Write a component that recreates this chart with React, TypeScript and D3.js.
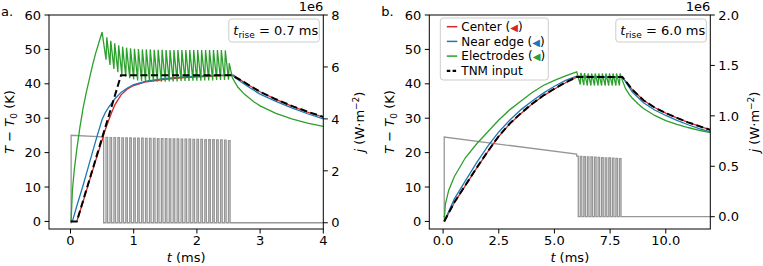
import React from 'react';
import * as d3 from 'd3';

type Pt = [number, number];

// ---------- panel a (t_rise = 0.7 ms) ----------
const pulseTimesA = [0.5, 0.5625, 0.625, 0.6875, 0.75, 0.8125, 0.875, 0.9375, 1.0, 1.0625, 1.125, 1.1875, 1.25, 1.3125, 1.375, 1.4375, 1.5, 1.5625, 1.625, 1.6875, 1.75, 1.8125, 1.875, 1.9375, 2.0, 2.0625, 2.125, 2.1875, 2.25, 2.3125, 2.375, 2.4375, 2.5];
const currentPeaksA = [3.29, 3.29, 3.28, 3.28, 3.28, 3.27, 3.27, 3.27, 3.26, 3.26, 3.26, 3.25, 3.25, 3.25, 3.24, 3.24, 3.24, 3.23, 3.23, 3.23, 3.22, 3.22, 3.22, 3.21, 3.21, 3.21, 3.2, 3.2, 3.2, 3.19, 3.19, 3.18, 3.16];
const currentDcA: Pt[] = [[0, 0], [0.01, 0], [0.01, 3.37], [0.5, 3.31]];
const tnmA: Pt[] = [[0, 0], [0.1, 0], [0.8, 42.5], [2.55, 42.5], [2.7, 41.0], [2.85, 39.3], [3.0, 37.7], [3.25, 35.5], [3.5, 33.6], [3.75, 31.9], [4.0, 30.4]];
const centerA: Pt[] = [[0.1, 0], [0.2, 5.8], [0.3, 11.8], [0.4, 17.8], [0.5, 23.6], [0.55, 26.6], [0.6, 29.2], [0.65, 31.6], [0.7, 33.8], [0.8, 36.8], [0.9, 38.5], [1.0, 39.5], [1.2, 40.6], [1.5, 41.3], [1.8, 41.8], [2.1, 42.1], [2.4, 42.4], [2.58, 42.5], [2.7, 41.0], [2.85, 39.3], [3.0, 37.7], [3.25, 35.5], [3.5, 33.5], [3.75, 31.8], [4.0, 30.3]];
const nearEdgeA: Pt[] = [[0.03, 0], [0.1, 4.5], [0.2, 10.5], [0.3, 17], [0.4, 23.5], [0.5, 29.6], [0.55, 31.6], [0.6, 33.1], [0.7, 35.6], [0.8, 37.5], [0.9, 38.8], [1.0, 39.8], [1.2, 40.8], [1.5, 41.6], [1.8, 42.0], [2.1, 42.3], [2.4, 42.5], [2.56, 42.5], [2.7, 40.5], [2.85, 38.7], [3.0, 37.0], [3.25, 34.9], [3.5, 33.0], [3.75, 31.3], [4.0, 29.8]];
const elecRiseA: Pt[] = [[0.01, 0], [0.03, 9], [0.06, 15], [0.1, 21], [0.15, 27.5], [0.2, 33], [0.25, 37.5], [0.3, 41.5], [0.35, 45.5], [0.4, 49], [0.45, 52], [0.5, 55]];
const elecPeaksA = [53.5, 52.5, 51.8, 51.2, 50.8, 50.5, 50.3, 50.2, 50.1, 50.0, 50.0, 50.0, 49.9, 49.9, 49.9, 49.8, 49.8, 49.8, 49.8, 49.8, 49.8, 49.8, 49.8, 49.8, 49.8, 49.8, 49.8, 49.8, 49.8, 49.8, 49.7, 46.0];
const elecTroughsA = [47.0, 45.5, 44.3, 43.4, 42.7, 42.1, 41.6, 41.3, 41.0, 40.8, 40.7, 40.6, 40.6, 40.6, 40.6, 40.6, 40.7, 40.7, 40.7, 40.8, 40.8, 40.8, 40.9, 40.9, 40.9, 41.0, 41.0, 41.0, 41.1, 41.1, 41.1, 41.2];
const elecDecayA: Pt[] = [[2.56, 41.8], [2.6, 40.5], [2.65, 39.0], [2.75, 37.0], [2.9, 34.8], [3.0, 33.6], [3.25, 31.4], [3.5, 29.8], [3.75, 28.6], [4.0, 27.6]];

// ---------- panel b (t_rise = 6.0 ms) ----------
const pulseTimesB = [6.0, 6.16, 6.32, 6.48, 6.64, 6.8, 6.96, 7.12, 7.28, 7.44, 7.6, 7.76, 7.92];
const currentPeaksB = [0.6, 0.598, 0.596, 0.594, 0.592, 0.59, 0.588, 0.586, 0.584, 0.582, 0.58, 0.578, 0.576];
const currentDcB: Pt[] = [[0, 0], [0.05, 0], [0.05, 0.79], [6.0, 0.62]];
const tnmB: Pt[] = [[0.05, 0], [0.5, 5.5], [1, 10.5], [1.5, 15.5], [2, 20.3], [2.5, 24.8], [3, 28.5], [3.5, 31.5], [4, 34.2], [4.5, 36.6], [5, 38.6], [5.5, 40.4], [6, 42], [8.05, 42], [8.5, 38.3], [9, 35.2], [9.5, 33.1], [10, 31.5], [10.5, 30.1], [11, 28.8], [11.5, 27.7], [12, 26.6]];
const centerB: Pt[] = [[0.05, 0], [0.5, 5.4], [1, 10.4], [1.5, 15.4], [2, 20.2], [2.5, 24.7], [3, 28.4], [3.5, 31.4], [4, 34.1], [4.5, 36.5], [5, 38.5], [5.5, 40.3], [6, 41.9], [8.05, 41.9], [8.5, 38.3], [9, 35.2], [9.5, 33.1], [10, 31.5], [10.5, 30.1], [11, 28.8], [11.5, 27.7], [12, 26.6]];
const nearEdgeB: Pt[] = [[0.05, 0], [0.5, 6.5], [1, 11.8], [1.5, 17], [2, 21.8], [2.5, 26], [3, 29.5], [3.5, 32.5], [4, 35], [4.5, 37.3], [5, 39.3], [5.5, 41], [6, 42.2], [8.05, 42], [8.5, 37.6], [9, 34.5], [9.5, 32.4], [10, 30.8], [10.5, 29.4], [11, 28.1], [11.5, 27], [12, 26]];
const elecRiseB: Pt[] = [[0.05, 0], [0.1, 5], [0.25, 9], [0.5, 13], [1, 18.5], [1.5, 22.5], [2, 26], [2.5, 29.5], [3, 32.5], [3.5, 35], [4, 37.5], [4.5, 39.5], [5, 41], [5.5, 42.3], [6, 43.5]];
const elecPeaksB = [43.2, 43.1, 43.0, 43.0, 43.0, 43.0, 43.0, 43.0, 43.0, 43.0, 43.0, 43.0];
const elecTroughsB = [39.8, 39.6, 39.5, 39.5, 39.5, 39.5, 39.5, 39.5, 39.5, 39.5, 39.5, 39.5];
const elecDecayB: Pt[] = [[8.05, 41], [8.2, 38.5], [8.35, 37], [8.5, 35.8], [8.75, 34.2], [9, 32.8], [9.5, 30.8], [10, 29.3], [10.5, 28.2], [11, 27.3], [11.5, 26.5], [12, 25.8]];

// ---------- axes ----------
const tempTicks = [0, 10, 20, 30, 40, 50, 60];
const timeTicksA = [0, 1, 2, 3, 4];
const timeTicksB = [0, 2.5, 5, 7.5, 10];
const currentTicksA = [0, 2, 4, 6, 8];
const currentTicksB = [0, 0.5, 1, 1.5, 2];

const legendItems = [
  { label: 'Center', color: '#d62728' },
  { label: 'Near edge', color: '#1f77b4' },
  { label: 'Electrodes', color: '#2ca02c' },
];

const FONT = 'DejaVu Sans';
const RED = '#d62728';
const BLUE = '#1f77b4';
const GREEN = '#2ca02c';
const GRAY = '#969696';

const currentPath = (dc: Pt[], times: number[], peaks: number[], w: number, tEnd: number): Pt[] => {
  const pts: Pt[] = [...dc];
  times.forEach((t, i) => {
    if (i > 0) pts.push([t, 0]);
    pts.push([t, peaks[i]], [t + w, peaks[i]], [t + w, 0]);
  });
  pts.push([tEnd, 0]);
  return pts;
};

const electrodePath = (rise: Pt[], times: number[], peaks: number[], troughs: number[], w: number, decay: Pt[]): Pt[] => {
  const pts: Pt[] = [...rise];
  for (let i = 1; i < times.length; i++) {
    pts.push([times[i], troughs[i - 1]], [times[i] + w, peaks[i - 1]]);
  }
  return pts.concat(decay);
};

type PanelProps = {
  id: string;
  letter: string;
  left: number;
  right: number;
  xDomain: [number, number];
  xTicks: number[];
  xFmt: (v: number) => string;
  jDomain: [number, number];
  jTicks: number[];
  jFmt: (v: number) => string;
  current: Pt[];
  center: Pt[];
  near: Pt[];
  elec: Pt[];
  tnm: Pt[];
  rise: string;
  legend?: boolean;
  jLabelX: number;
};

const TOP = 15;
const BOTTOM = 229;

const Panel = (p: PanelProps) => {
  const x = d3.scaleLinear().domain(p.xDomain).range([p.left, p.right]);
  const y = d3.scaleLinear().domain([-2.2, 60]).range([BOTTOM, TOP]);
  const yj = d3.scaleLinear().domain(p.jDomain).range([BOTTOM, TOP]);
  const line = d3.line<Pt>().x(d => x(d[0])).y(d => y(d[1]));
  const lineJ = d3.line<Pt>().x(d => x(d[0])).y(d => yj(d[1]));
  const cx = (p.left + p.right) / 2;
  const cy = (TOP + BOTTOM) / 2;

  return (
    <g fontFamily={FONT} fontSize={13} fill="#000">
      <defs>
        <clipPath id={`clip-${p.id}`}>
          <rect x={p.left} y={TOP} width={p.right - p.left} height={BOTTOM - TOP} />
        </clipPath>
      </defs>
      <g clipPath={`url(#clip-${p.id})`} fill="none">
        <path d={lineJ(p.current) || ''} stroke={GRAY} strokeWidth={1.3} />
        <path d={line(p.center) || ''} stroke={RED} strokeWidth={1.3} />
        <path d={line(p.near) || ''} stroke={BLUE} strokeWidth={1.3} />
        <path d={line(p.elec) || ''} stroke={GREEN} strokeWidth={1.3} />
        <path d={line(p.tnm) || ''} stroke="#000" strokeWidth={2} strokeDasharray="7,3.5" />
      </g>
      <rect x={p.left} y={TOP} width={p.right - p.left} height={BOTTOM - TOP} fill="none" stroke="#000" strokeWidth={1} />

      {tempTicks.map(t => (
        <g key={`yt${t}`}>
          <line x1={p.left - 4.5} x2={p.left} y1={y(t)} y2={y(t)} stroke="#000" />
          <text x={p.left - 8} y={y(t)} dy="0.36em" textAnchor="end">{t}</text>
        </g>
      ))}
      {p.jTicks.map(t => (
        <g key={`jt${t}`}>
          <line x1={p.right} x2={p.right + 4.5} y1={yj(t)} y2={yj(t)} stroke="#000" />
          <text x={p.right + 8} y={yj(t)} dy="0.36em">{p.jFmt(t)}</text>
        </g>
      ))}
      {p.xTicks.map(t => (
        <g key={`xt${t}`}>
          <line x1={x(t)} x2={x(t)} y1={BOTTOM} y2={BOTTOM + 4.5} stroke="#000" />
          <text x={x(t)} y={BOTTOM + 16} textAnchor="middle">{p.xFmt(t)}</text>
        </g>
      ))}

      <text x={p.right} y={11} textAnchor="end">1e6</text>
      <text x={p.left - 48} y={16}>{p.letter}</text>

      <text x={cx} y={262} textAnchor="middle">
        <tspan fontStyle="italic">t</tspan> (ms)
      </text>
      <text transform={`translate(${p.left - 35},${cy}) rotate(-90)`} textAnchor="middle">
        <tspan fontStyle="italic">T</tspan>
        <tspan> − </tspan>
        <tspan fontStyle="italic">T</tspan>
        <tspan fontSize={9} dy={3}>0</tspan>
        <tspan dy={-3}> (K)</tspan>
      </text>
      <text transform={`translate(${p.jLabelX},${cy}) rotate(-90)`} textAnchor="middle">
        <tspan fontStyle="italic">j</tspan>
        <tspan> (W·m</tspan>
        <tspan fontSize={9} dy={-5}>−2</tspan>
        <tspan dy={5}>)</tspan>
      </text>

      <rect x={p.right - 94.5} y={19} width={90.5} height={23} rx={3} fill="#fff" fillOpacity={0.8} stroke="#cccccc" />
      <text x={p.right - 90} y={34.5}>
        <tspan fontStyle="italic">t</tspan>
        <tspan fontSize={9} dy={3}>rise</tspan>
        <tspan dy={-3}> = {p.rise} ms</tspan>
      </text>

      {p.legend && (
        <g>
          <rect x={p.left + 11} y={18} width={108} height={62} rx={3} fill="#fff" fillOpacity={0.8} stroke="#cccccc" />
          {legendItems.map((it, i) => (
            <g key={it.label}>
              <line x1={p.left + 17.5} x2={p.left + 28} y1={26.7 + i * 14.7} y2={26.7 + i * 14.7} stroke={it.color} strokeWidth={1.5} />
              <text x={p.left + 32} y={26.7 + i * 14.7} dy="0.36em" fontSize={12}>
                {it.label} (<tspan fill={it.color} fontSize={10}>◀</tspan>)
              </text>
            </g>
          ))}
          <line x1={p.left + 17.5} x2={p.left + 28} y1={26.7 + 3 * 14.7} y2={26.7 + 3 * 14.7} stroke="#000" strokeWidth={2.2} strokeDasharray="3.5,2.3" />
          <text x={p.left + 32} y={26.7 + 3 * 14.7} dy="0.36em" fontSize={12}>TNM input</text>
        </g>
      )}
    </g>
  );
};

const App = () => {
  const currentA = currentPath(currentDcA, pulseTimesA, currentPeaksA, 0.025, 4.5);
  const currentB = currentPath(currentDcB, pulseTimesB, currentPeaksB, 0.07, 13);
  const elecA = electrodePath(elecRiseA, pulseTimesA, elecPeaksA, elecTroughsA, 0.012, elecDecayA);
  const elecB = electrodePath(elecRiseB, pulseTimesB, elecPeaksB, elecTroughsB, 0.03, elecDecayB);
  const fmt1 = d3.format('.1f');

  return (
    <svg width={763} height={266} style={{ position: 'absolute', left: 0, top: 0 }}>
      <rect width={763} height={266} fill="#fff" />
      <Panel
        id="a" letter="a." left={49} right={323.3}
        xDomain={[-0.34, 4]} xTicks={timeTicksA} xFmt={v => String(v)}
        jDomain={[-0.24, 8]} jTicks={currentTicksA} jFmt={v => String(v)}
        current={currentA} center={centerA} near={nearEdgeA} elec={elecA} tnm={tnmA}
        rise="0.7" jLabelX={364}
      />
      <Panel
        id="b" letter="b." left={429.3} right={710.3}
        xDomain={[-0.62, 12]} xTicks={timeTicksB} xFmt={fmt1}
        jDomain={[-0.122, 2]} jTicks={currentTicksB} jFmt={fmt1}
        current={currentB} center={centerB} near={nearEdgeB} elec={elecB} tnm={tnmB}
        rise="6.0" legend jLabelX={759}
      />
    </svg>
  );
};

export default App;
